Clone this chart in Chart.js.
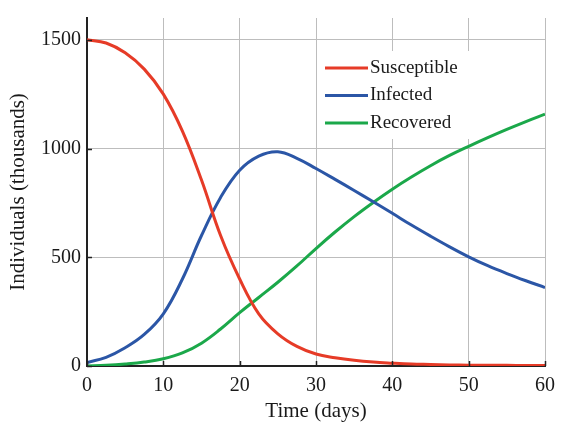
<!DOCTYPE html>
<html>
<head>
<meta charset="utf-8">
<script src="https://cdn.jsdelivr.net/npm/chart.js@4.4.1/dist/chart.umd.min.js"></script>
<style>
  html, body { margin: 0; padding: 0; background: #fff; }
  #wrap { position: relative; width: 563px; height: 427px; }
</style>
</head>
<body>
<div id="wrap"><canvas id="sir"></canvas></div>
<script>
// Modelo SIR: individuos (miles) cada 2.5 días
const dias = [0, 2.5, 5, 7.5, 10, 12.5, 15, 17.5, 20, 22.5, 25, 27.5, 30,
              32.5, 35, 37.5, 40, 42.5, 45, 47.5, 50, 52.5, 55, 57.5, 60];
const susceptibles = [1500, 1485, 1440, 1365, 1250, 1080, 855, 600, 400, 240, 148, 90, 55,
                      38, 26, 18, 13, 9, 7, 5, 4, 3, 3, 2, 2];
const infectados   = [16, 40, 84, 145, 240, 400, 600, 775, 900, 965, 985, 955, 908,
                      858, 807, 755, 702, 648, 597, 548, 502, 461, 425, 392, 361];
const recuperados  = [0, 3, 9, 18, 33, 60, 105, 170, 245, 315, 385, 460, 540,
                      616, 687, 752, 813, 869, 921, 968, 1010, 1050, 1088, 1124, 1158];
const ticksY = [0, 500, 1000, 1500];

const series = [
    { label: 'Susceptible', valores: susceptibles, color: '#e63b27' },
    { label: 'Infected', valores: infectados, color: '#2b56a6' },
    { label: 'Recovered', valores: recuperados, color: '#1ba84a' }
];

const FUENTE = "'Liberation Serif', 'Times New Roman', serif";

// Marcas cortas hacia dentro sobre los ejes
const marcasInternas = {
    id: 'marcasInternas',
    afterDraw(chart) {
        const { ctx, chartArea, scales } = chart;
        ctx.save();
        ctx.strokeStyle = '#222';
        ctx.lineWidth = 1.5;
        scales.x.ticks.forEach(t => {
            const px = Math.round(scales.x.getPixelForValue(t.value)) + 0.5;
            ctx.beginPath();
            ctx.moveTo(px, chartArea.bottom);
            ctx.lineTo(px, chartArea.bottom - 5);
            ctx.stroke();
        });
        scales.y.ticks.forEach(t => {
            const py = Math.round(scales.y.getPixelForValue(t.value)) + 0.5;
            ctx.beginPath();
            ctx.moveTo(chartArea.left, py);
            ctx.lineTo(chartArea.left + 5, py);
            ctx.stroke();
        });
        ctx.restore();
    }
};

// Leyenda dentro del área del gráfico, con fondo blanco
const leyendaInterna = {
    id: 'leyendaInterna',
    afterDatasetsDraw(chart) {
        const { ctx, chartArea } = chart;
        const x0 = chartArea.left + 238;
        const y0 = chartArea.top + 33;
        ctx.save();
        ctx.fillStyle = '#fff';
        ctx.fillRect(x0 - 4, y0, 150, 88);
        ctx.font = '19px ' + FUENTE;
        ctx.textBaseline = 'middle';
        chart.data.datasets.forEach((ds, i) => {
            const yy = y0 + 17 + i * 27.5;
            ctx.strokeStyle = ds.borderColor;
            ctx.lineWidth = 3;
            ctx.beginPath();
            ctx.moveTo(x0, yy);
            ctx.lineTo(x0 + 43, yy);
            ctx.stroke();
            ctx.fillStyle = '#1a1a1a';
            ctx.fillText(ds.label, x0 + 45, yy);
        });
        ctx.restore();
    }
};

new Chart(document.getElementById('sir'), {
    type: 'line',
    data: {
        datasets: series.map(s => ({
            label: s.label,
            data: dias.map((d, i) => ({ x: d, y: s.valores[i] })),
            borderColor: s.color,
            borderWidth: 3,
            pointRadius: 0,
            fill: false,
            tension: 0.4
        }))
    },
    options: {
        responsive: true,
        maintainAspectRatio: false,
        animation: false,
        layout: { padding: { top: 12, right: 9, left: 0, bottom: 0 } },
        plugins: {
            legend: { display: false },
            tooltip: { enabled: false }
        },
        scales: {
            x: {
                type: 'linear',
                min: 0,
                max: 60,
                ticks: { stepSize: 10, color: '#1a1a1a', padding: 8, font: { family: FUENTE, size: 20 } },
                grid: { color: '#bdbdbd', lineWidth: 1, drawTicks: false },
                border: { color: '#222', width: 2 },
                title: {
                    display: true,
                    text: 'Time (days)',
                    color: '#1a1a1a',
                    font: { family: FUENTE, size: 21 },
                    padding: { top: 0, bottom: 3 }
                },
                afterFit: s => { s.height = 61; }
            },
            y: {
                min: 0,
                max: 1600,
                afterBuildTicks: s => { s.ticks = ticksY.map(v => ({ value: v })); },
                ticks: {
                    color: '#1a1a1a',
                    padding: 6,
                    font: { family: FUENTE, size: 20 },
                    callback: v => String(v)
                },
                grid: { color: '#bdbdbd', lineWidth: 1, drawTicks: false },
                border: { color: '#222', width: 2 },
                title: {
                    display: true,
                    text: 'Individuals (thousands)',
                    color: '#1a1a1a',
                    font: { family: FUENTE, size: 21 },
                    padding: { top: 6, bottom: 0 }
                },
                afterFit: s => { s.width = 87; }
            }
        }
    },
    plugins: [marcasInternas, leyendaInterna]
});
</script>
</body>
</html>
